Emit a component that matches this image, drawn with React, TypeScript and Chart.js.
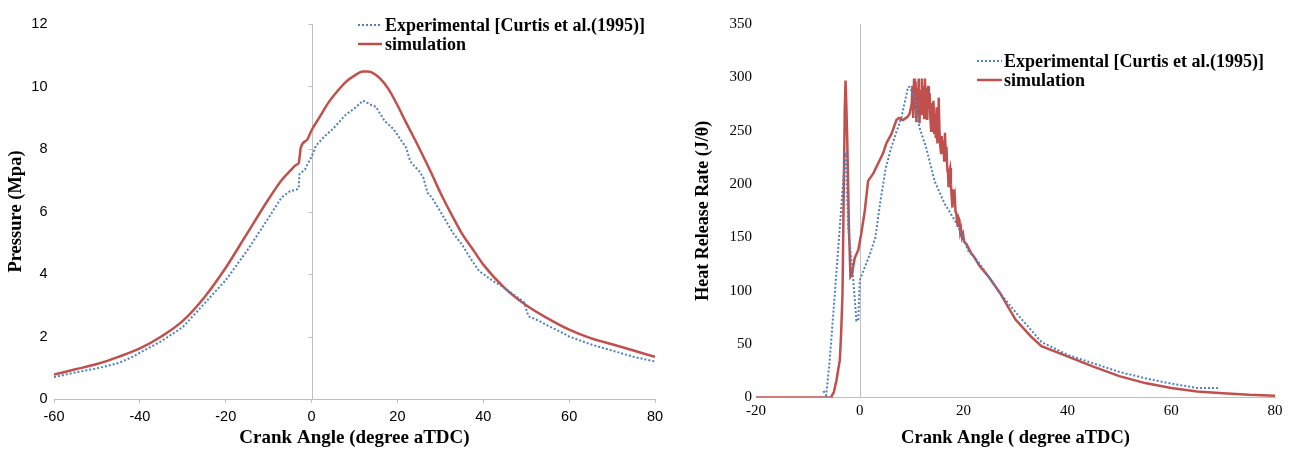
import React, { useEffect, useRef } from "react";
import { Chart, registerables } from "chart.js";

Chart.register(...registerables);

// ---------------- Data: Pressure (left chart) ----------------
const pressureSimAngle = [
  -60, -55, -50, -45, -40, -35, -30, -25, -20, -15, -10, -7, -5, -3.5, -3, -2.5, -1, 0, 2, 4, 6, 8, 10, 12, 13, 14, 16, 18,
  20, 22, 25, 28, 30, 33, 35, 38, 40, 45, 50, 55, 60, 65, 70, 75, 80,
];
const pressureSim = [
  0.78, 0.95, 1.12, 1.35, 1.62, 2.0, 2.5, 3.25, 4.2, 5.3, 6.4, 7.0, 7.3, 7.5, 7.55, 8.05, 8.3, 8.6, 9.05, 9.5, 9.85, 10.15,
  10.35, 10.48, 10.48, 10.45, 10.25, 9.9, 9.4, 8.85, 8.05, 7.2, 6.6, 5.8, 5.3, 4.7, 4.3, 3.55, 3.0, 2.58, 2.22, 1.95,
  1.75, 1.55, 1.35,
];
const pressureExpAngle = [
  -60, -55, -50, -45, -42, -40, -35, -30, -28, -25, -20, -15, -10, -7, -5, -3.5, -3, -2.8, -1.5, -1, 0, 1, 3, 5, 6, 8, 10,
  12, 14, 15, 17, 19, 20, 22, 23, 25, 26, 27, 28, 30, 33, 35, 37, 39, 42, 45, 48, 49.5, 50.5, 53, 55, 58, 60, 65, 70, 75,
  80,
];
const pressureExp = [
  0.7, 0.85, 0.98, 1.15, 1.33, 1.48, 1.85, 2.3, 2.6, 3.05, 3.8, 4.75, 5.8, 6.45, 6.65, 6.7, 6.75, 7.2, 7.35, 7.5, 7.75,
  8.1, 8.4, 8.65, 8.8, 9.1, 9.3, 9.55, 9.4, 9.35, 8.9, 8.65, 8.45, 8.05, 7.6, 7.3, 7.1, 6.6, 6.45, 6.0, 5.3, 4.95, 4.5,
  4.1, 3.8, 3.55, 3.25, 3.1, 2.65, 2.5, 2.35, 2.15, 2.0, 1.75, 1.55, 1.35, 1.2,
];

// ---------------- Data: Heat release rate (right chart) ----------------
const hrrSimAngle = [
  -20, -10, -5.5, -5.45, -5, -4.5, -4.2, -3.85, -3.6, -3.33, -3.1, -2.9, -2.75, -2.6, -2.4, -2.1, -1.8, -1.5, -1.3, -0.96,
  -0.3, 0.3, 0.96, 1.6, 2.6, 3.5, 4.5, 5.1, 6.1, 7.06, 7.5, 8.3, 9.2, 9.6,
  10.0, 10.15, 10.3, 10.45, 10.6, 10.75, 10.9, 11.05, 11.2, 11.35, 11.5, 11.65, 11.8, 11.95, 12.1, 12.25, 12.4, 12.55,
  12.7, 12.85, 13.0, 13.15, 13.3, 13.45, 13.6, 13.75, 13.9, 14.05, 14.2, 14.35, 14.5, 14.65, 14.8, 14.95, 15.1, 15.2,
  15.35, 15.5, 15.65, 15.8, 15.95, 16.1, 16.25, 16.4, 16.55, 16.7, 16.85, 17.0, 17.1, 17.25, 17.4, 17.55, 17.7, 17.85,
  18.0, 18.15, 18.3, 18.45, 18.6, 18.75, 18.9, 19.05, 19.2, 19.35, 19.5, 19.7, 19.9, 20.1, 20.5,
  21.5, 22, 23, 25, 27, 30, 33, 35, 40, 45, 50, 55, 60, 65, 70, 75, 80,
];
const hrrSim = [
  0, 0, 0, 1, 5, 16, 25, 35, 60, 98, 191, 269, 297, 275, 238, 160, 113, 115, 122, 131, 138, 154, 175, 203, 210, 219, 229,
  238, 247, 260, 262, 260, 263, 266,
  275, 292, 262, 299, 270, 296, 258, 290, 265, 299, 257, 288, 266, 299, 270, 292, 262, 299,
  269, 290, 260, 292, 272, 285, 262, 250, 276, 258, 278, 247, 266, 243, 272, 238, 262, 281,
  250, 236, 229, 245, 231, 241, 222, 248, 230, 235, 214, 210, 197, 212, 215, 200, 188, 178,
  195, 184, 188, 174, 172, 165, 160, 168, 166, 155, 158, 150, 153, 146, 144,
  135, 132, 124, 112, 98, 73, 57, 48, 38.5, 29, 20, 13.5, 9, 5.6, 4, 2.5, 1.6,
];
const hrrExpAngle = [
  -7.0, -6.5, -6.2, -5.8, -4.8, -3.85, -2.9, -2.7, -2.25, -1.3, -0.65, -0.3, 0, 2, 3, 4, 5, 6, 7, 8, 9.3, 9.6, 10.6, 11.5,
  12.8, 14.4, 16.3, 18.3, 20, 20.8, 23, 25, 27, 30, 35, 40, 45, 50, 55, 60, 65, 69,
];
const hrrExp = [
  6, 2, 15, 35, 98, 160, 222, 226, 160, 113, 72, 72, 110, 135, 150, 185, 215, 233, 248, 262, 291, 291, 281, 253, 234, 203,
  182, 166, 150, 138, 126, 112, 98, 80, 52, 40, 32, 24, 18, 13, 9, 9,
];

// ---------------- Labels ----------------
const legendLabels = ["Experimental [Curtis et al.(1995)]", "simulation"];
const pressureTitleX = "Crank Angle (degree aTDC)";
const pressureTitleY = "Pressure (Mpa)";
const hrrTitleX = "Crank Angle ( degree aTDC)";
const hrrTitleY = "Heat Release Rate (J/θ)";

const RED = "#C0504D";
const BLUE = "#4F81BD";
const AXIS = "#BFBFBF";
const SERIF = "'Liberation Serif', 'Times New Roman', serif";
const SANS = "'Liberation Sans', Arial, sans-serif";

function pts(xs: number[], ys: number[]) {
  return xs.map((x, i) => ({ x, y: ys[i] }));
}

const legendPlugin = {
  id: "customLegend",
  afterDraw(chart: any, _args: any, opts: any) {
    const ctx = chart.ctx;
    const { x, y, sampleWidth, gap, rowHeight, font } = opts;
    chart.data.datasets.forEach((ds: any, i: number) => {
      const yy = y + i * rowHeight;
      ctx.save();
      ctx.strokeStyle = ds.borderColor;
      ctx.lineWidth = ds.borderWidth;
      ctx.setLineDash(ds.borderDash || []);
      ctx.beginPath();
      ctx.moveTo(x, yy);
      ctx.lineTo(x + sampleWidth, yy);
      ctx.stroke();
      ctx.setLineDash([]);
      ctx.fillStyle = "#000";
      ctx.font = font;
      ctx.textBaseline = "middle";
      ctx.textAlign = "left";
      ctx.fillText(ds.label, x + sampleWidth + gap, yy + 1);
      ctx.restore();
    });
  },
};

const zeroAxisPlugin = {
  id: "zeroAxis",
  beforeDatasetsDraw(chart: any, _args: any, opts: any) {
    const ctx = chart.ctx;
    const xS = chart.scales.x;
    const yS = chart.scales.y;
    const px = Math.round(xS.getPixelForValue(0)) + 0.5;
    ctx.save();
    ctx.strokeStyle = AXIS;
    ctx.lineWidth = 1;
    ctx.beginPath();
    ctx.moveTo(px, yS.top);
    ctx.lineTo(px, yS.bottom);
    if (opts.tickLength) {
      yS.ticks.forEach((t: any) => {
        const py = Math.round(yS.getPixelForValue(t.value)) + 0.5;
        ctx.moveTo(px - opts.tickLength, py);
        ctx.lineTo(px, py);
      });
    }
    ctx.stroke();
    ctx.restore();
  },
};

function PressureChart() {
  const ref = useRef<HTMLCanvasElement>(null);
  useEffect(() => {
    const chart = new Chart(ref.current as HTMLCanvasElement, {
      type: "line",
      data: {
        datasets: [
          {
            label: legendLabels[0],
            data: pts(pressureExpAngle, pressureExp),
            borderColor: BLUE,
            borderWidth: 2,
            borderDash: [2, 2],
            pointRadius: 0,
            tension: 0,
          },
          {
            label: legendLabels[1],
            data: pts(pressureSimAngle, pressureSim),
            borderColor: RED,
            borderWidth: 2.5,
            pointRadius: 0,
            cubicInterpolationMode: "monotone",
          },
        ],
      },
      options: {
        animation: false,
        responsive: false,
        layout: { padding: { left: 0, right: 25, top: 24, bottom: 0 } },
        plugins: {
          legend: { display: false },
          tooltip: { enabled: false },
          customLegend: {
            x: 358,
            y: 25,
            sampleWidth: 24,
            gap: 3,
            rowHeight: 19,
            font: `bold 18px ${SERIF}`,
          },
          zeroAxis: { tickLength: 4 },
        } as any,
        scales: {
          x: {
            type: "linear",
            min: -60,
            max: 80,
            afterFit: (s: any) => {
              s.height = 59;
            },
            ticks: { stepSize: 20, color: "#000", padding: 5, font: { family: SANS, size: 14.5 } },
            grid: { display: true, drawOnChartArea: false, drawTicks: true, tickLength: 4, color: AXIS },
            border: { display: true, color: AXIS },
            title: {
              display: true,
              text: pressureTitleX,
              color: "#000",
              font: { family: SERIF, size: 19, weight: "bold" },
              padding: { top: 0, bottom: 9 },
            },
          },
          y: {
            type: "linear",
            min: 0,
            max: 12,
            afterFit: (s: any) => {
              s.width = 54;
            },
            ticks: { stepSize: 2, color: "#000", padding: 6.5, font: { family: SANS, size: 14.5 } },
            grid: { display: false, drawTicks: false },
            border: { display: false },
            title: {
              display: true,
              text: pressureTitleY,
              color: "#000",
              font: { family: SERIF, size: 18.5, weight: "bold" },
              padding: { top: 5, bottom: 0 },
            },
          },
        },
      },
      plugins: [legendPlugin, zeroAxisPlugin],
    } as any);
    return () => chart.destroy();
  }, []);
  return <canvas ref={ref} width={680} height={458} style={{ width: 680, height: 458, display: "block" }} />;
}

function HeatReleaseChart() {
  const ref = useRef<HTMLCanvasElement>(null);
  useEffect(() => {
    const chart = new Chart(ref.current as HTMLCanvasElement, {
      type: "line",
      data: {
        datasets: [
          {
            label: legendLabels[0],
            data: pts(hrrExpAngle, hrrExp),
            borderColor: BLUE,
            borderWidth: 2,
            borderDash: [2, 2],
            pointRadius: 0,
            tension: 0,
          },
          {
            label: legendLabels[1],
            data: pts(hrrSimAngle, hrrSim),
            borderColor: RED,
            borderWidth: 2.5,
            pointRadius: 0,
            tension: 0,
          },
        ],
      },
      options: {
        animation: false,
        responsive: false,
        layout: { padding: { left: 0, right: 18, top: 24, bottom: 0 } },
        plugins: {
          legend: { display: false },
          tooltip: { enabled: false },
          customLegend: {
            x: 317,
            y: 61,
            sampleWidth: 25,
            gap: 2,
            rowHeight: 19,
            font: `bold 18px ${SERIF}`,
          },
          zeroAxis: { tickLength: 0 },
        } as any,
        scales: {
          x: {
            type: "linear",
            min: -20,
            max: 80,
            afterFit: (s: any) => {
              s.height = 60.5;
            },
            ticks: { stepSize: 20, color: "#000", padding: 5, font: { family: SERIF, size: 15 } },
            grid: { display: false, drawTicks: false },
            border: { display: true, color: AXIS },
            title: {
              display: true,
              text: hrrTitleX,
              color: "#000",
              font: { family: SERIF, size: 18.5, weight: "bold" },
              padding: { top: 0, bottom: 9 },
            },
          },
          y: {
            type: "linear",
            min: 0,
            max: 350,
            afterFit: (s: any) => {
              s.width = 96;
            },
            ticks: { stepSize: 50, color: "#000", padding: 4, font: { family: SERIF, size: 15 } },
            grid: { display: false, drawTicks: false },
            border: { display: false },
            title: {
              display: true,
              text: hrrTitleY,
              color: "#000",
              font: { family: SERIF, size: 18, weight: "bold" },
              padding: { top: 33, bottom: 0 },
            },
          },
        },
      },
      plugins: [legendPlugin, zeroAxisPlugin],
    } as any);
    return () => chart.destroy();
  }, []);
  return <canvas ref={ref} width={633} height={458} style={{ width: 633, height: 458, display: "block" }} />;
}

export default function App() {
  return (
    <div style={{ position: "absolute", left: 0, top: 0, width: 1293, height: 458, background: "#fff", overflow: "hidden" }}>
      <div style={{ position: "absolute", left: 0, top: 0 }}>
        <PressureChart />
      </div>
      <div style={{ position: "absolute", left: 660, top: 0 }}>
        <HeatReleaseChart />
      </div>
    </div>
  );
}
